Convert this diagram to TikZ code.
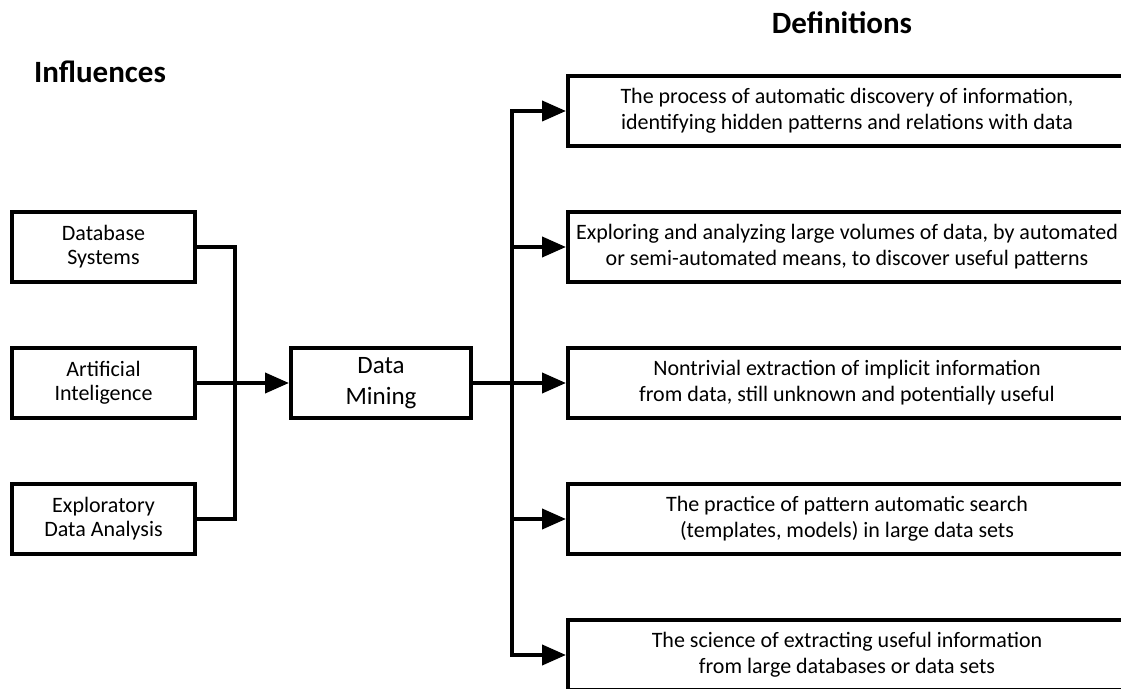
\documentclass[tikz,border=0pt]{standalone}
\usepackage{fontspec}
\setmainfont{Carlito}
\usetikzlibrary{arrows.meta, positioning}
\tikzstyle{infNode} = [rectangle, minimum width=183pt, minimum height=70pt, text centered, align=center, draw=black, line width=4pt, font=\fontsize{22}{24}\selectfont]
\tikzstyle{dmNode} = [infNode, minimum width=180pt, font=\fontsize{25}{31}\selectfont]
\tikzstyle{defNode} = [infNode, minimum width=558pt, minimum height=70pt, font=\fontsize{22}{26}\selectfont]
\tikzstyle{titleNode} = [font=\fontsize{31}{34}\selectfont\bfseries]
\tikzstyle{line} = [line width=4pt, draw=black]
\tikzstyle{arrow} = [line, -{Triangle[length=24pt,width=20pt]}]

\begin{document}
\begin{tikzpicture}[x=1pt, y=1pt, node distance=136pt]
        \useasboundingbox (0,0) rectangle (1121,688);
        \clip (0,0) rectangle (1121,688);
        % titles
        \node (infl) [titleNode] at (100,616) {Influences};
        \node (defs) [titleNode] at (842,665) {Definitions};
        % influences
        \node (db) [infNode] at (103.5,441) {Database\\Systems};
        \node (ai) [infNode, below of=db] {Artificial\\Inteligence};
        \node (eda) [infNode, below of=ai] {Exploratory\\Data Analysis};
        \node (dm) [dmNode] at (381,305) {Data\\Mining};
        % definitions
        \node (d3) [defNode] at (847,305) {Nontrivial extraction of implicit information\\from data, still unknown and potentially useful};
        \node (d2) [defNode, above of=d3] {Exploring and analyzing large volumes of data, by automated\\or semi-automated means, to discover useful patterns};
        \node (d1) [defNode, above of=d2] {The process of automatic discovery of information,\\identifying hidden patterns and relations with data};
        \node (d4) [defNode, below of=d3] {The practice of pattern automatic search\\(templates, models) in large data sets};
        \node (d5) [defNode, below of=d4] {The science of extracting useful information\\from large databases or data sets};

        \coordinate (merge) at (235,305);
        \coordinate (split) at (512,305);

        \draw [line] (db) -| (merge);
        \draw [line] (eda) -| (merge);
        \draw [arrow] (ai) -- (dm);
        \draw [arrow] (split) |- (d1);
        \draw [arrow] (split) |- (d2);
        \draw [arrow] (dm) -- (d3);
        \draw [arrow] (split) |- (d4);
        \draw [arrow] (split) |- (d5);
    \end{tikzpicture}
\end{document}
